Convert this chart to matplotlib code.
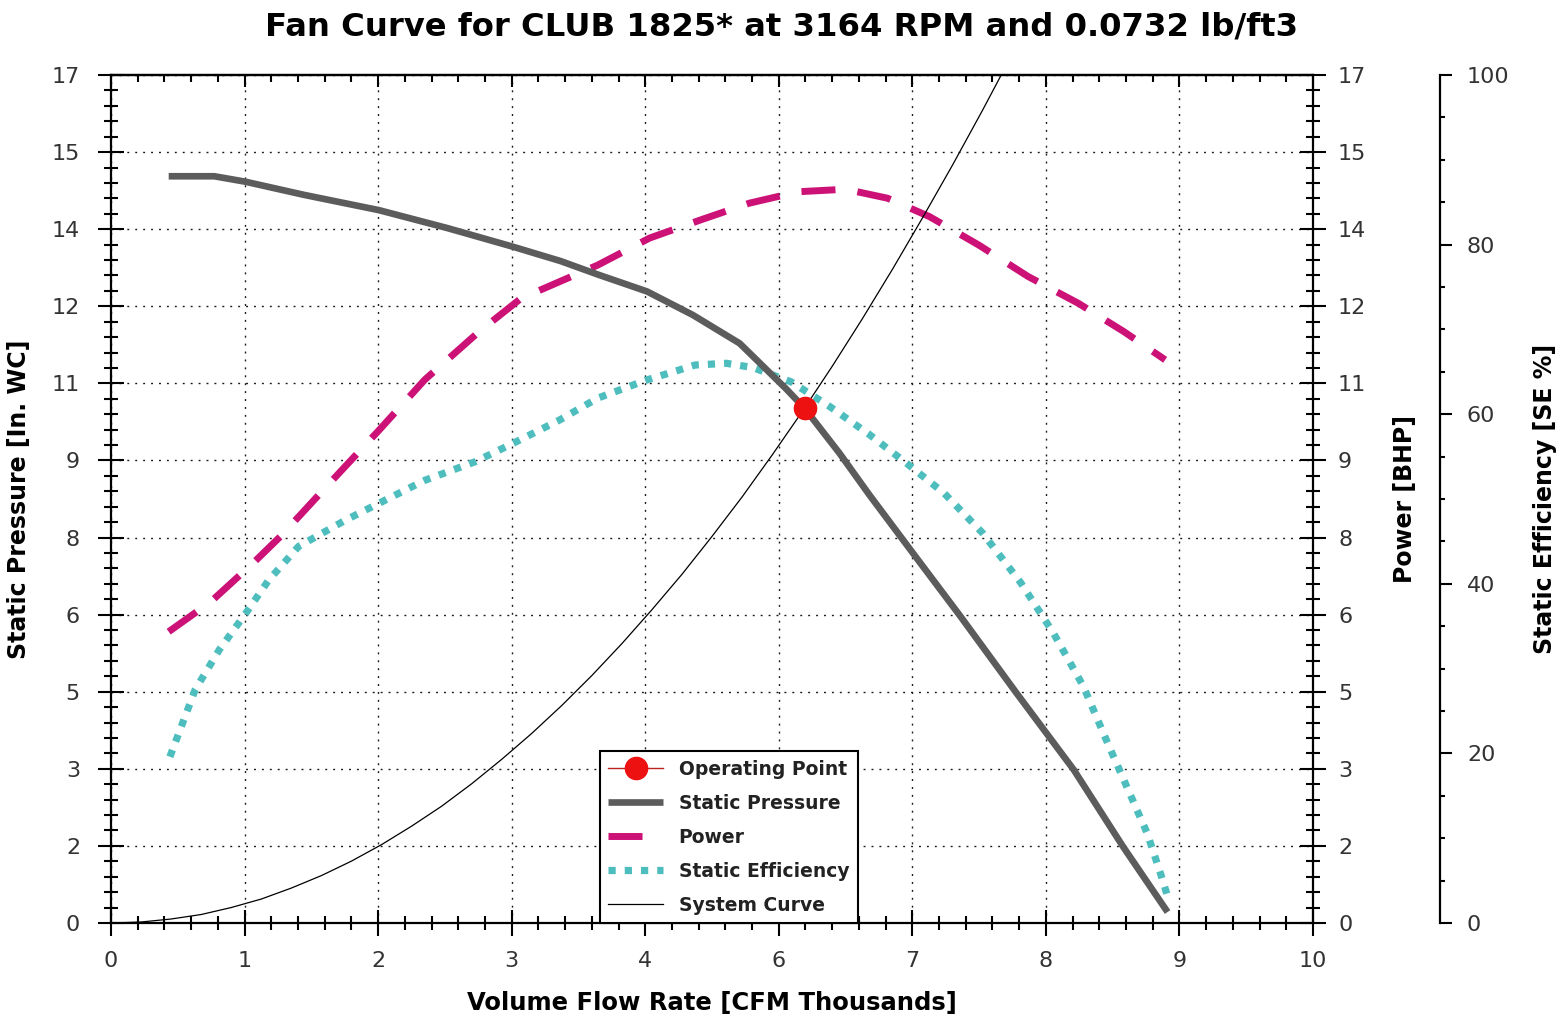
import numpy as np
import matplotlib
matplotlib.use("Agg")
import matplotlib.pyplot as plt
from matplotlib.ticker import FixedLocator, AutoMinorLocator

# ------------------------------------------------------------------ data
TITLE = "Fan Curve for CLUB 1825* at 3164 RPM and 0.0732 lb/ft3"
X_LABEL = "Volume Flow Rate [CFM Thousands]"
Y_LABEL = "Static Pressure [In. WC]"
P_LABEL = "Power [BHP]"
E_LABEL = "Static Efficiency [SE %]"

X_TICK_LABELS = ["0", "1", "2", "3", "4", "6", "7", "8", "9", "10"]
Y_TICK_LABELS = ["0", "2", "3", "5", "6", "8", "9", "11", "12", "14", "15", "17"]
EFF_TICKS = [0, 20, 40, 60, 80, 100]
EFF_TICK_LABELS = ["0", "20", "40", "60", "80", "100"]

# Static pressure curve [in. WC] vs flow [CFM thousands]
sp_flow = [0.48, 0.86, 1.12, 1.60, 2.23, 2.80, 3.34, 3.74, 4.05, 4.46, 4.84,
           5.23, 5.40, 5.62, 5.77, 6.06, 6.31, 6.67, 7.06, 7.53, 8.01, 8.42, 8.79]
sp_pressure = [14.97, 14.97, 14.86, 14.60, 14.29, 13.93, 13.56, 13.27, 13.00, 12.66, 12.19,
               11.62, 11.22, 10.70, 10.32, 9.42, 8.58, 7.42, 6.17, 4.62, 3.07, 1.53, 0.22]

# Power curve [BHP]
pw_flow = [0.48, 0.83, 1.18, 1.41, 1.82, 2.23, 2.61, 3.06, 3.41, 4.05, 4.48,
           4.90, 5.31, 5.72, 6.11, 6.46, 6.81, 7.22, 7.63, 8.05, 8.43, 8.77]
pw_bhp = [5.84, 6.44, 7.21, 7.75, 8.82, 9.88, 10.89, 11.85, 12.52, 13.19, 13.73,
          14.09, 14.43, 14.66, 14.71, 14.53, 14.16, 13.59, 12.96, 12.42, 11.85, 11.29]

# Static efficiency curve [%]
se_flow = [0.49, 0.70, 0.90, 1.12, 1.31, 1.56, 1.95, 2.23, 2.61, 3.03, 3.35,
           3.73, 4.05, 4.45, 4.86, 5.12, 5.34, 5.66, 5.98, 6.30, 6.62, 6.93,
           7.25, 7.57, 7.84, 8.09, 8.28, 8.45, 8.62, 8.73, 8.80]
se_eff = [19.6, 27.5, 32.2, 36.5, 40.4, 44.4, 47.5, 49.5, 52.2, 54.4, 56.6,
          59.3, 61.9, 64.0, 65.8, 66.0, 65.5, 63.8, 60.9, 57.7, 54.2, 50.7,
          46.0, 40.1, 34.2, 27.9, 21.6, 16.1, 10.6, 5.9, 2.7]

# System curve [in. WC]
sys_flow = [0.0, 0.25, 0.5, 0.75, 1.0, 1.25, 1.5, 1.75, 2.0, 2.25, 2.5, 2.75,
            3.0, 3.25, 3.5, 3.75, 4.0, 4.25, 4.5, 4.75, 5.0, 5.25, 5.5, 5.75,
            6.0, 6.25, 6.5, 6.75, 7.0, 7.25, 7.45]
sys_pressure = [0.0, 0.02, 0.08, 0.17, 0.31, 0.48, 0.70, 0.95, 1.24, 1.57, 1.94, 2.34,
                2.79, 3.28, 3.80, 4.36, 4.96, 5.60, 6.28, 6.99, 7.75, 8.54, 9.38, 10.25,
                11.16, 12.11, 13.10, 14.13, 15.19, 16.29, 17.20]

# Operating point
op_flow = [5.77]
op_pressure = [10.32]

# ------------------------------------------------------------------ styling
plt.rcParams["font.family"] = ["DejaVu Sans"]
W, H = 1567, 1023
L, R, B, T = 111, 1313, 923, 75
fig = plt.figure(figsize=(W / 100, H / 100), dpi=100, facecolor="white")
rect = [L / W, 1 - B / H, (R - L) / W, (B - T) / H]

ax2 = fig.add_axes(rect)  # power axis (bottom, carries grid)
ax3 = fig.add_axes(rect)  # efficiency axis
ax = fig.add_axes(rect)   # main axis (top)
ax2.set_zorder(1)
ax3.set_zorder(2)
ax.set_zorder(3)
ax.patch.set_visible(False)
ax3.patch.set_visible(False)

XMAX, YMAX = 10, 17
xt = np.linspace(0, XMAX, len(X_TICK_LABELS))
yt = np.linspace(0, YMAX, len(Y_TICK_LABELS))

TICK_FS = 16
LAB_FS = 17
TICK_COL = "#333333"

for a in (ax, ax2, ax3):
    a.set_xlim(0, XMAX)

# --- power axis (grid + right ticks)
ax2.set_ylim(0, YMAX)
ax2.xaxis.set_major_locator(FixedLocator(xt))
ax2.yaxis.set_major_locator(FixedLocator(yt))
ax2.grid(True, which="major", color="#1a1a1a", linewidth=1.0,
         linestyle=(0, (1.4, 4.3)))
ax2.tick_params(axis="x", which="both", bottom=False, top=False,
                labelbottom=False)
ax2.yaxis.tick_right()
ax2.yaxis.set_minor_locator(AutoMinorLocator(5))
ax2.set_yticklabels(Y_TICK_LABELS)
ax2.tick_params(axis="y", which="major", direction="inout", length=19, width=1.5,
                pad=8.5, labelsize=TICK_FS, labelcolor=TICK_COL, left=False)
ax2.tick_params(axis="y", which="minor", direction="inout", length=10, width=1.5,
                left=False)
for s in ("left", "top", "bottom"):
    ax2.spines[s].set_visible(False)
ax2.spines["right"].set_linewidth(1.6)
ax2.yaxis.set_label_position("right")
ax2.set_ylabel(P_LABEL, fontsize=LAB_FS, fontweight="bold", va="center",
               rotation=90)
ax2.yaxis.set_label_coords(1.0765, 0.5)

pw_line, = ax2.plot(pw_flow, pw_bhp, color="#cc1177", linewidth=5,
                    dashes=(4.9, 3.2), dash_capstyle="butt", label="Power")

# --- efficiency axis
ax3.set_ylim(0, 100)
ax3.yaxis.tick_right()
ax3.yaxis.set_major_locator(FixedLocator(EFF_TICKS))
ax3.yaxis.set_minor_locator(AutoMinorLocator(4))
ax3.set_yticklabels(EFF_TICK_LABELS)
ax3.tick_params(axis="x", which="both", bottom=False, top=False,
                labelbottom=False)
ax3.tick_params(axis="y", which="major", direction="out", length=8.4, width=1.5,
                pad=11, labelsize=TICK_FS, labelcolor=TICK_COL, left=False)
ax3.tick_params(axis="y", which="minor", direction="out", length=3.8, width=1.5,
                left=False)
for s in ("left", "top", "bottom"):
    ax3.spines[s].set_visible(False)
ax3.spines["right"].set_position(("axes", (1440 - L) / (R - L)))
ax3.spines["right"].set_linewidth(1.6)
ax3.yaxis.set_label_position("right")
ax3.set_ylabel(E_LABEL, fontsize=LAB_FS, fontweight="bold", va="center",
               rotation=90)
ax3.yaxis.set_label_coords(1.193, 0.5)

se_line, = ax3.plot(se_flow, se_eff, color="#4dbdbd", linewidth=5.2,
                    dashes=(1.0, 1.25), dash_capstyle="butt",
                    label="Static Efficiency")

# --- main axis
ax.set_ylim(0, YMAX)
ax.xaxis.set_major_locator(FixedLocator(xt))
ax.xaxis.set_minor_locator(AutoMinorLocator(5))
ax.yaxis.set_major_locator(FixedLocator(yt))
ax.yaxis.set_minor_locator(AutoMinorLocator(5))
ax.set_xticklabels(X_TICK_LABELS)
ax.set_yticklabels(Y_TICK_LABELS)
ax.tick_params(axis="x", which="major", direction="inout", length=19, width=1.5,
               pad=10.5, labelsize=TICK_FS, labelcolor=TICK_COL, top=False)
ax.tick_params(axis="x", which="minor", direction="inout", length=10, width=1.5,
               top=False)
ax.tick_params(axis="y", which="major", direction="inout", length=19, width=1.5,
               pad=12.8, labelsize=TICK_FS, labelcolor=TICK_COL, right=False)
ax.tick_params(axis="y", which="minor", direction="inout", length=10, width=1.5,
               right=False)
ax.spines["right"].set_visible(False)
for s in ("left", "top", "bottom"):
    ax.spines[s].set_linewidth(1.6)

sec = ax.secondary_xaxis("top")
sec.xaxis.set_major_locator(FixedLocator(xt))
sec.xaxis.set_minor_locator(AutoMinorLocator(5))
sec.tick_params(axis="x", which="major", direction="in", length=8.6, width=1.5,
                labeltop=False)
sec.tick_params(axis="x", which="minor", direction="in", length=5, width=1.5)
sec.spines["top"].set_linewidth(1.6)

ax.set_xlabel(X_LABEL, fontsize=LAB_FS + 0.5, fontweight="bold", va="center")
ax.xaxis.set_label_coords(0.5, -(1003 - B) / (B - T))
ax.set_ylabel(Y_LABEL, fontsize=LAB_FS, fontweight="bold", va="center")
ax.yaxis.set_label_coords(-(L - 19) / (R - L), 0.5)

sp_line, = ax.plot(sp_flow, sp_pressure, color="#5c5c5c", linewidth=4.8,
                   solid_joinstyle="round", solid_capstyle="butt",
                   label="Static Pressure")
sys_line, = ax.plot(sys_flow, sys_pressure, color="black", linewidth=0.9,
                    label="System Curve")
op_line, = ax.plot(op_flow, op_pressure, marker="o", markersize=16,
                   markerfacecolor="#ee1111", markeredgecolor="#ee1111",
                   color="#bb2222", linewidth=1.0, label="Operating Point")

leg = ax.legend(handles=[op_line, sp_line, pw_line, se_line, sys_line],
                loc="lower left", bbox_to_anchor=((600 - L) / (R - L), 0.0),
                borderaxespad=0, frameon=True, fancybox=False, framealpha=1,
                edgecolor="black", prop={"size": 13.5, "weight": "bold"},
                handlelength=2.9, handletextpad=0.85, labelspacing=0.8,
                borderpad=0.45)
leg.get_frame().set_linewidth(1.5)
for t in leg.get_texts():
    t.set_color("#222222")

fig.text(0.4986, 1 - 27 / H, TITLE, ha="center", va="center",
         fontsize=23.2, fontweight="bold")

fig.savefig("out.png", dpi=100, facecolor="white")
